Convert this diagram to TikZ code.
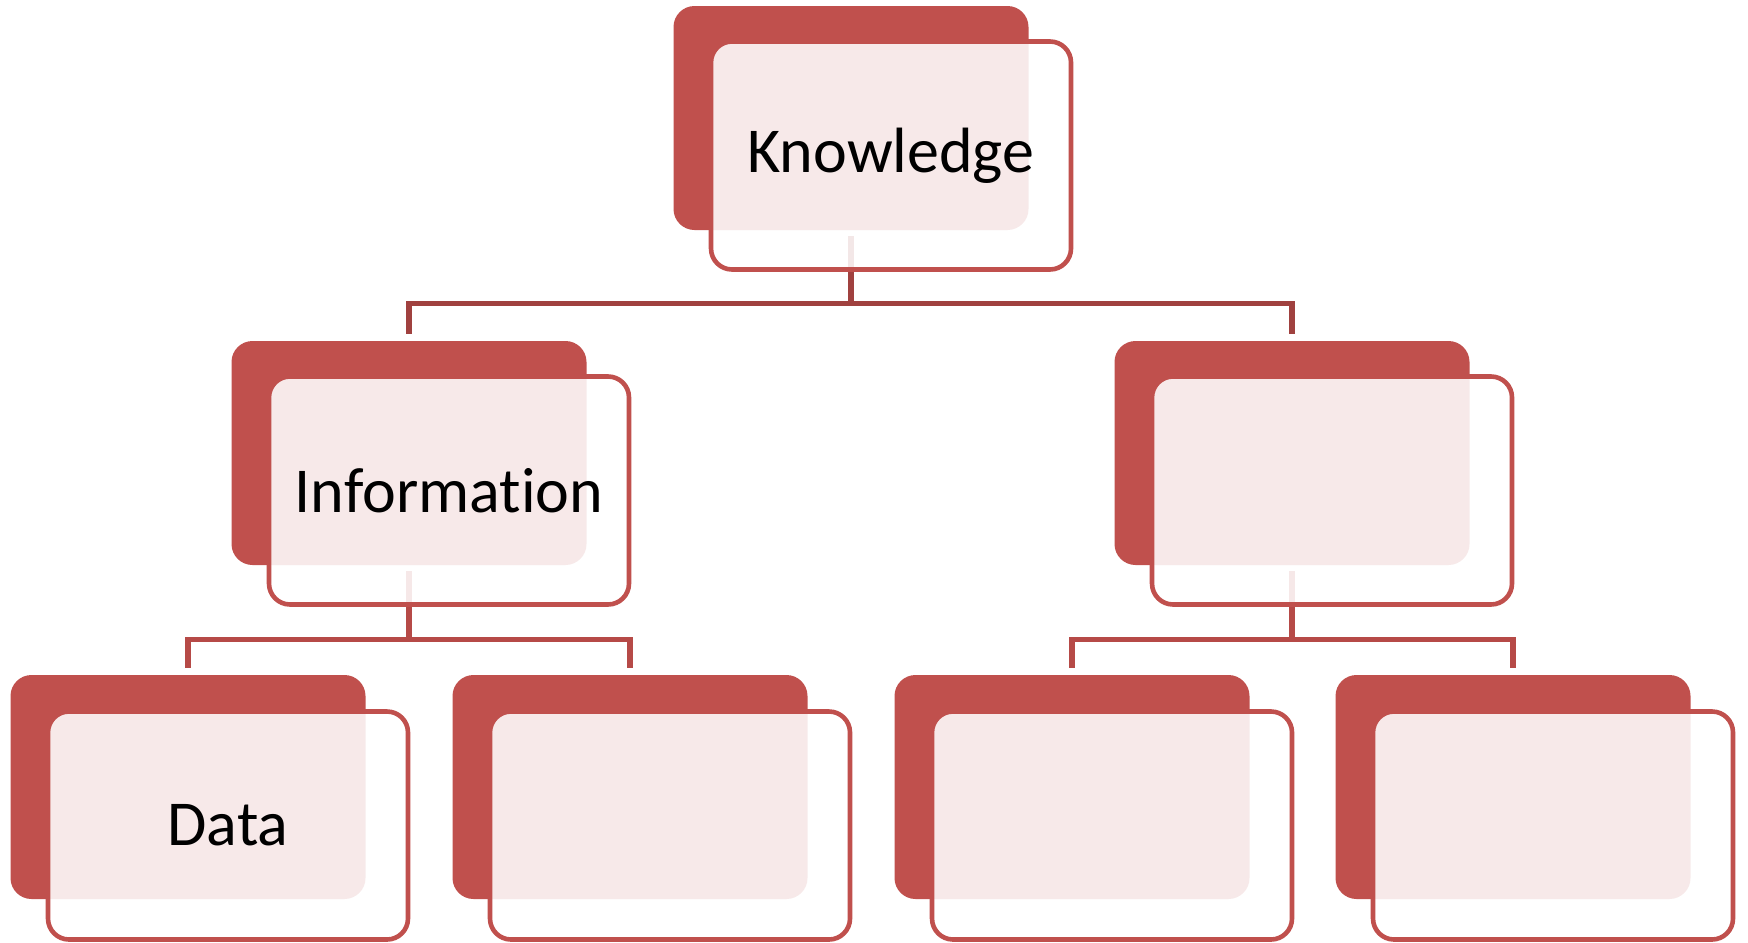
\documentclass[tikz,border=0pt]{standalone}
\usepackage{fontspec}
\setmainfont{Carlito}[Ligatures=NoCommon]
\usepackage{tikz}
\definecolor{boxred}{HTML}{C0504D}
\definecolor{linkred}{HTML}{B64A47}
\definecolor{toplink}{HTML}{A0413F}

\begin{document}
\begin{tikzpicture}[x=0.5pt, y=-0.5pt,
    back/.style={rectangle, rounded corners=10.5pt, fill=boxred, minimum width=177.5pt, minimum height=112pt, inner sep=0pt},
    front/.style={rectangle, rounded corners=10.5pt, draw=boxred, line width=2.3pt, fill=white, fill opacity=0.88, text opacity=1, minimum width=180pt, minimum height=114pt, inner sep=0pt, font=\fontsize{32}{38}\selectfont},
    link/.style={line width=2.7pt, draw=linkred, shorten <=3pt, shorten >=3.5pt}]
    \useasboundingbox (0,0) rectangle (1748,942);

    \node[back] (b1) at (851,118) {};
    \node[back] (b2) at (409,453) {};
    \node[back] (b3) at (1292,453) {};
    \node[back] (b4) at (188,787) {};
    \node[back] (b5) at (630,787) {};
    \node[back] (b6) at (1072,787) {};
    \node[back] (b7) at (1513,787) {};

    \draw[link, draw=toplink] (b1.south) -- ++(0,73) -| (b2.north);
    \draw[link, draw=toplink] (b1.south) -- ++(0,73) -| (b3.north);
    \draw[link] (b2.south) -- ++(0,74) -| (b4.north);
    \draw[link] (b2.south) -- ++(0,74) -| (b5.north);
    \draw[link] (b3.south) -- ++(0,74) -| (b6.north);
    \draw[link] (b3.south) -- ++(0,74) -| (b7.north);

    \node[front] (1) at ([shift={(40,37.5)}]b1.center) {Knowledge};
    \node[front] (2) at ([shift={(40,37.5)}]b2.center) {Information};
    \node[front] (3) at ([shift={(40,37.5)}]b3.center) {};
    \node[front] (4) at ([shift={(40,38.5)}]b4.center) {Data};
    \node[front] (5) at ([shift={(40,38.5)}]b5.center) {};
    \node[front] (6) at ([shift={(40,38.5)}]b6.center) {};
    \node[front] (7) at ([shift={(40,38.5)}]b7.center) {};
\end{tikzpicture}
\end{document}
